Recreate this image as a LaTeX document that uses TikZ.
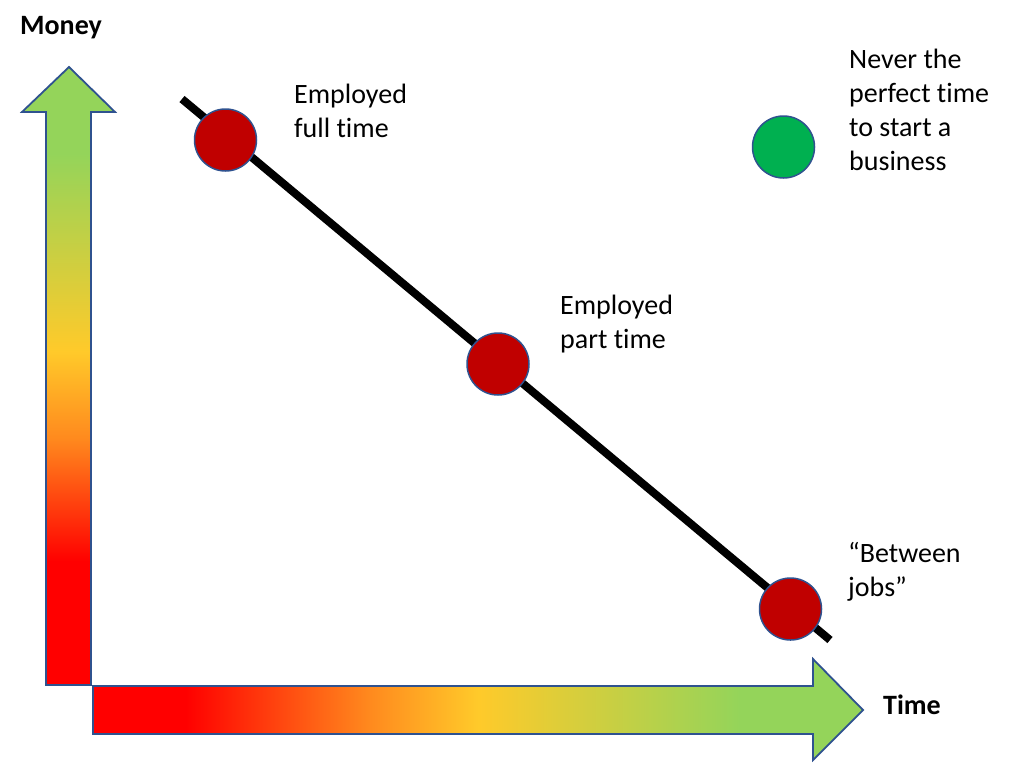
\documentclass[tikz,border=0pt]{standalone}
\usepackage{fontspec}
\setmainfont{Carlito}[Ligatures=NoCommon]
\usetikzlibrary{positioning}
\definecolor{axisblue}{HTML}{2F528F}
\definecolor{dotred}{HTML}{C00000}
\definecolor{dotgreen}{HTML}{00B050}
\definecolor{shadered}{HTML}{FF0000}
\definecolor{shadeorange}{HTML}{FF8A1E}
\definecolor{shadeyellow}{HTML}{FFCA2A}
\definecolor{shadegreen}{HTML}{94D45A}
\pgfdeclarehorizontalshading{timeshade}{100bp}{color(0bp)=(shadered); color(31bp)=(shadered); color(43bp)=(shadeorange); color(50bp)=(shadeyellow); color(67bp)=(shadegreen); color(100bp)=(shadegreen)}
\pgfdeclareverticalshading{moneyshade}{100bp}{color(0bp)=(shadered); color(35bp)=(shadered); color(45bp)=(shadeorange); color(52bp)=(shadeyellow); color(68bp)=(shadegreen); color(100bp)=(shadegreen)}

\begin{document}
\begin{tikzpicture}[x=1pt,y=-1pt,
    axis arrow/.style={draw=axisblue,line width=1.8pt,line join=miter},
    dot/.style={circle,draw=axisblue,line width=1.5pt,minimum size=62pt,inner sep=0pt},
    label text/.style={font=\fontsize{28}{34}\selectfont,align=left,anchor=base west,inner sep=0pt},
    axis label/.style={font=\fontsize{28}{34}\selectfont\bfseries,anchor=base west,inner sep=0pt}]
      \useasboundingbox (0,0) rectangle (1024,772);

      % axes
      \path[axis arrow,shading=moneyshade] (46,685) -- (91,685) -- (91,112) -- (115,112)
            -- (69,67) -- (22,112) -- (46,112) -- cycle;
      \path[axis arrow,shading=timeshade] (93,686) -- (813,686) -- (813,659) -- (863,710)
            -- (813,760) -- (813,734) -- (93,734) -- cycle;
      \node[axis label] (money) at (20,34) {Money};
      \node[axis label] (time) at (883,714) {Time};

      % line and dots
      \coordinate (start) at (182,99);
      \coordinate (stop) at (830,640);
      \draw[line width=8pt] (start) -- (stop);
      \node[dot,fill=dotred] (full) at (225.5,140) {};
      \node[dot,fill=dotred] (part) at (498,364) {};
      \node[dot,fill=dotred] (between) at (790.5,609) {};
      \node[dot,fill=dotgreen] (never) at (783.5,147) {};

      % texts (anchored at the baseline of their last line)
      \node[label text] (fulltext) at (294,137) {Employed\\full time};
      \node[label text] (parttext) at (560,348) {Employed\\part time};
      \node[label text] (betweentext) at (848,596) {“Between\\jobs”};
      \node[label text] (nevertext) at (849,170) {Never the\\perfect time\\to start a\\business};
\end{tikzpicture}
\end{document}
